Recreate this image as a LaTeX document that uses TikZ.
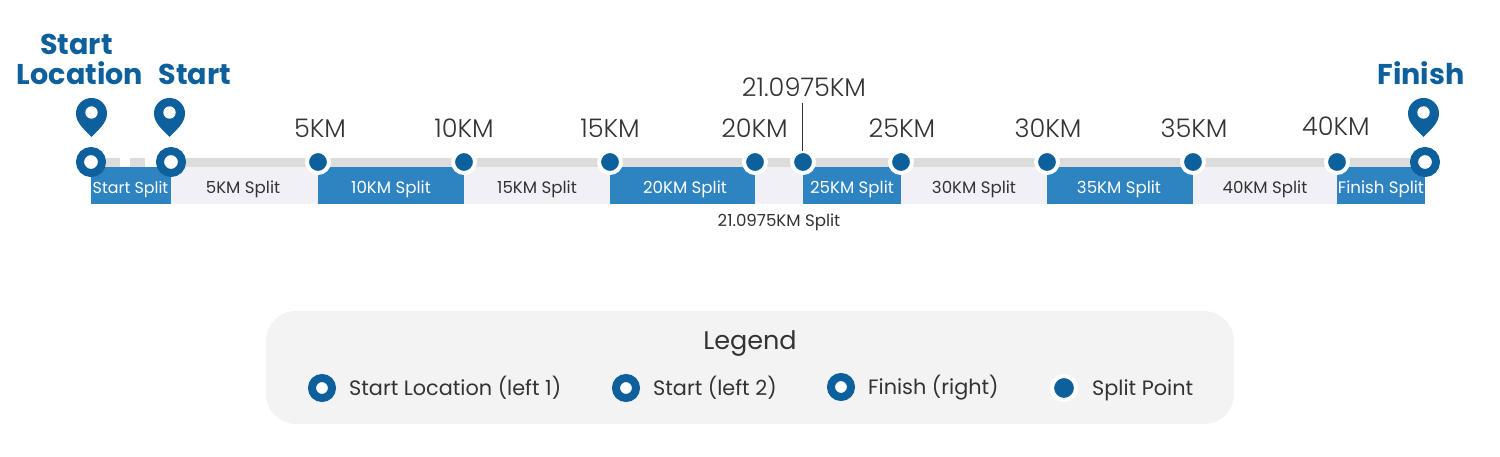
\documentclass[tikz,border=0pt]{standalone}
\usepackage{fontspec}
\setmainfont{Poppins}
\newfontfamily\poplight{Poppins Light}
\definecolor{navy}{HTML}{0E609C}
\definecolor{segblue}{HTML}{2E83C1}
\definecolor{seglight}{HTML}{F1F0F7}
\definecolor{track}{HTML}{DCDCDC}
\definecolor{ink}{HTML}{333333}
\definecolor{legendbg}{HTML}{F3F3F3}
\tikzset{
  big/.style={circle,draw=navy,line width=8pt,fill=white,minimum size=22pt,inner sep=0pt,outer sep=0pt},
  dot/.style={circle,draw=white,line width=4pt,fill=navy,minimum size=22pt,inner sep=0pt,outer sep=0pt},
  km/.style={font=\poplight\fontsize{25.6}{25.6}\selectfont,text=ink,inner sep=0pt,anchor=base},
  seglab/.style={font=\fontsize{16.6}{16.6}\selectfont,inner sep=0pt,anchor=base},
  ontint/.style={seglab,text=ink},
  onblue/.style={seglab,text=white},
  head/.style={font=\bfseries\fontsize{28.6}{28.6}\selectfont,text=navy,inner sep=0pt,anchor=base},
  leg/.style={font=\fontsize{20.8}{20.8}\selectfont,text=ink,inner sep=0pt,anchor=base west},
  pin/.pic={
    \filldraw[navy,line width=1pt,line join=round] (0,38.3) .. controls (-5,32.5) and (-15,25.5) .. (-15,15.5)
      .. controls (-15,7.2) and (-8.3,0.5) .. (0,0.5)
      .. controls (8.3,0.5) and (15,7.2) .. (15,15.5)
      .. controls (15,25.5) and (5,32.5) .. (0,38.3) -- cycle;
    \fill[white] (0,14.5) circle (6.2);
  }
}
\begin{document}
\begin{tikzpicture}[x=1pt,y=-1pt]
\useasboundingbox (0,0) rectangle (1500,457);
% track
\fill[track] (91,158) rectangle (120,167);
\fill[track] (130,158) rectangle (145,167);
\fill[track] (171,158) rectangle (1425,167);
% segments
\foreach \a/\b in {91/171,318/464,610/755,803/901,1047/1193,1337/1425}
  \fill[segblue] (\a,167) rectangle (\b,204);
\foreach \a/\b in {171/318,464/610,755/803,901/1047,1193/1337}
  \fill[seglight] (\a,167) rectangle (\b,204);
% segment labels
\node[onblue,font=\fontsize{15.9}{15.9}\selectfont] at (130.5,193.5) {Start Split};
\node[ontint] at (243,193.5) {5KM Split};
\node[onblue] at (391,193.5) {10KM Split};
\node[ontint] at (537,193.5) {15KM Split};
\node[onblue] at (685,193.5) {20KM Split};
\node[ontint] at (779,226.5) {21.0975KM Split};
\node[onblue] at (852,193.5) {25KM Split};
\node[ontint] at (974,193.5) {30KM Split};
\node[onblue] at (1119,193.5) {35KM Split};
\node[ontint] at (1265,193.5) {40KM Split};
\node[onblue] at (1381,193.5) {Finish Split};
% markers
\node[big] (startloc) at (91,162) {};
\node[big] (start) at (171,162) {};
\node[big] (finish) at (1425,162) {};
\foreach \n/\x in {k5/318,k10/464,k15/610,k20/755,khalf/803,k25/901,k30/1047,k35/1193,k40/1337}
  \node[dot] (\n) at (\x,162) {};
% pins
\pic at (91.5,98) {pin};
\pic at (169.5,98) {pin};
\pic at (1423.5,98) {pin};
% km labels
\node[km] at (320,138) {5KM};
\node[km] at (464,138) {10KM};
\node[km] at (610,138) {15KM};
\node[km] at (754.5,138) {20KM};
\node[km] at (902,138) {25KM};
\node[km] at (1048,138) {30KM};
\node[km] at (1194,138) {35KM};
\node[km] at (1336,136) {40KM};
\node[km] (halflab) at (804,97) {21.0975KM};
\coordinate (halftop) at (802.5,103);
\draw[ink,line width=1.2pt] (halftop) -- (khalf.north -| halftop);
% headers
\node[head] at (76.5,54.5) {Start};
\node[head] at (80,84.5) {Location};
\node[head] at (195,84.5) {Start};
\node[head] at (1421,84.5) {Finish};
% legend
\fill[legendbg,rounded corners=30pt] (266,311) rectangle (1234,424);
\node[font=\fontsize{25.5}{25.5}\selectfont,text=ink,inner sep=0pt,anchor=base] at (750,349.5) {Legend};
\node[big,minimum size=20pt] (l1) at (322,388) {};
\node[leg] at (349,395) {Start Location (left 1)};
\node[big,minimum size=20pt] (l2) at (626,388) {};
\node[leg] at (653,395) {Start (left 2)};
\node[big,minimum size=20pt] (l3) at (841,387) {};
\node[leg] at (868,394) {Finish (right)};
\node[dot,minimum size=24pt] (l4) at (1064,388) {};
\node[leg] at (1092,395) {Split Point};
\end{tikzpicture}
\end{document}
